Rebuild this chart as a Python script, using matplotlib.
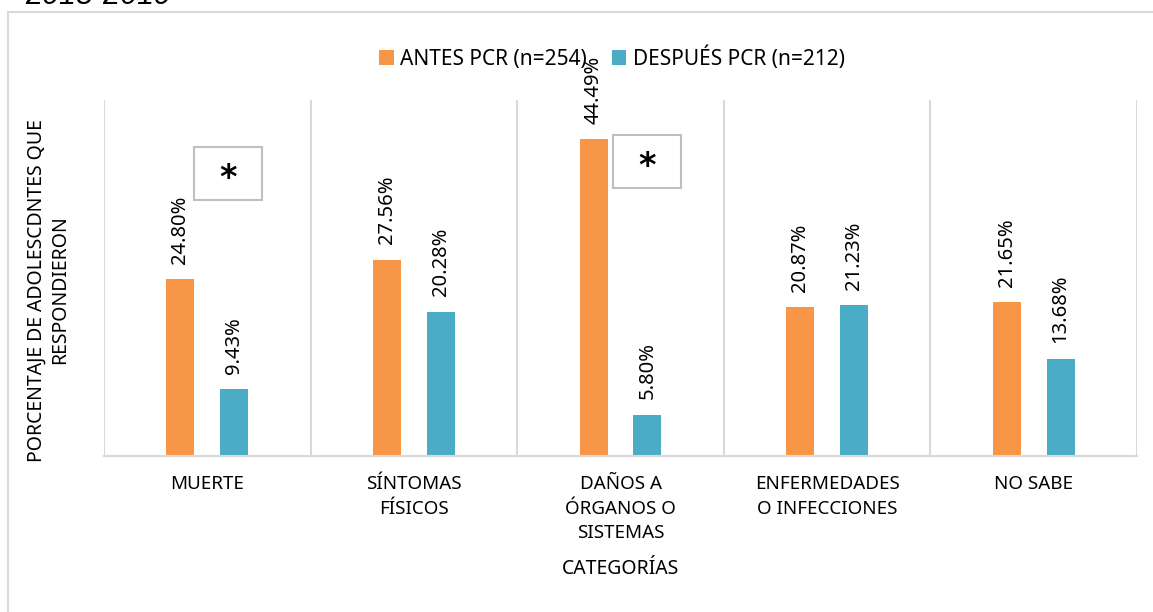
import numpy as np
import matplotlib.pyplot as plt
from matplotlib.patches import Rectangle

plt.rcParams['font.family'] = ['Noto Sans', 'DejaVu Sans']

# data
categorias = ['MUERTE', 'SÍNTOMAS\nFÍSICOS', 'DAÑOS A\nÓRGANOS O\nSISTEMAS',
              'ENFERMEDADES\nO INFECCIONES', 'NO SABE']
antes = [24.80, 27.56, 44.49, 20.87, 21.65]
despues = [9.43, 20.28, 5.80, 21.23, 13.68]
serie_antes = 'ANTES PCR (n=254)'
serie_despues = 'DESPUÉS PCR (n=212)'

c_antes = '#F79646'
c_despues = '#4BACC6'
gris = '#D9D9D9'

fig = plt.figure(figsize=(11.53, 6.12), dpi=100)
ax = fig.add_axes([104/1153, 1-456/612, 1033/1153, 356/612])

x = np.arange(len(categorias))
w = 0.135
off = 0.13
b1 = ax.bar(x - off, antes, w, color=c_antes, label=serie_antes)
b2 = ax.bar(x + off, despues, w, color=c_despues, label=serie_despues)

# data labels (rotated)
for bars, vals in ((b1, antes), (b2, despues)):
    for b, v in zip(bars, vals):
        ax.annotate('%.2f%%' % v, (b.get_x() + b.get_width()/2, v),
                    xytext=(0, 11), textcoords='offset points',
                    rotation=90, ha='center', va='bottom', fontsize=14.5)

ax.set_xlim(-0.5, 4.5)
ax.set_ylim(0, 50)
for s in ['top', 'right', 'left']:
    ax.spines[s].set_visible(False)
ax.spines['bottom'].set_color(gris)
ax.spines['bottom'].set_linewidth(1.5)
for sx in np.arange(-0.5, 5, 1):
    ax.axvline(sx, color=gris, lw=1.5, zorder=0)
ax.set_yticks([])
ax.set_xticks(x)
ax.set_xticklabels(categorias, fontsize=13.5, linespacing=1.45)
ax.tick_params(axis='x', length=0, pad=14)
ax.set_xlabel('CATEGORÍAS', fontsize=14, labelpad=12)
ax.set_ylabel('PORCENTAJE DE ADOLESCDNTES QUE\nRESPONDIERON', fontsize=14,
              linespacing=1.2)
ax.yaxis.set_label_coords(-0.033, 0.466)

# significance boxes
for bx, by in ((0.0871, 0.719), (0.4927, 0.753)):
    ax.add_patch(Rectangle((bx, by), 0.0658, 0.149, transform=ax.transAxes,
                           fill=False, edgecolor='#BFBFBF', lw=1.5, clip_on=False))
    ax.text(bx + 0.0329, by + 0.0745 - 0.015, '*', transform=ax.transAxes,
            ha='center', va='center', fontsize=24, fontweight='bold',
            family='DejaVu Sans')

fig.legend(handles=[b1, b2], loc='center', bbox_to_anchor=(612/1153, 1-58/612),
           ncol=2, frameon=False, fontsize=15, handlelength=0.7, handleheight=0.7,
           handletextpad=0.3, columnspacing=1.2)

# outer frame and cut title
fig.patches.append(Rectangle((8/1153, -0.1), 1.2, 1 - 12/612 + 0.1,
                             transform=fig.transFigure, fill=False,
                             edgecolor=gris, lw=1.5))
fig.text(25/1153, 1 - 4/612, '2018-2019', fontsize=22, style='italic',
         family='Liberation Sans', ha='left', va='baseline')

fig.savefig('out.png', dpi=100)
